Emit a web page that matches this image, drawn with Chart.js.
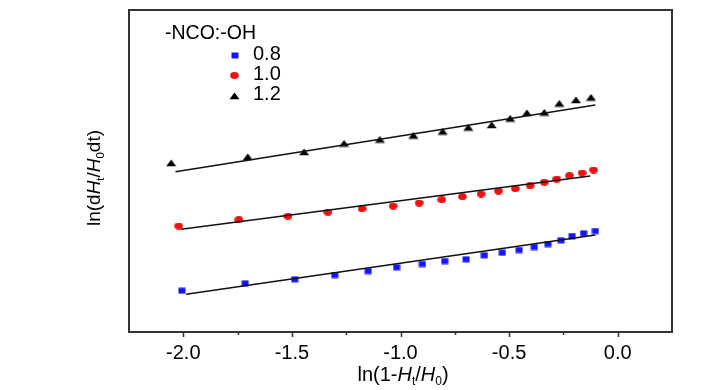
<!DOCTYPE html>
<html><head><meta charset="utf-8">
<script src="https://cdn.jsdelivr.net/npm/chart.js@4/dist/chart.umd.min.js"></script>
<style>html,body{margin:0;padding:0;background:#fff}#wrap{width:728px;height:390px}</style>
</head><body><div id="wrap"><canvas id="c" width="728" height="390"></canvas></div>
<script>
// ---- data ----
const legendTitle = '-NCO:-OH';
const seriesNames = ['0.8', '1.0', '1.2'];
const seriesColors = ['#1414ff', '#f01010', '#000000'];
const seriesShapes = ['square', 'ellipse', 'triangle'];

const x08 = [-2.006,-1.715,-1.487,-1.303,-1.149,-1.018,-0.899,-0.796,-0.698,-0.614,-0.531,-0.454,-0.384,-0.321,-0.261,-0.210,-0.157,-0.103];
const y08 = [0.413,0.487,0.527,0.570,0.610,0.647,0.680,0.709,0.727,0.767,0.793,0.820,0.850,0.880,0.917,0.960,0.987,1.010];

const x10 = [-2.021,-1.744,-1.518,-1.334,-1.177,-1.034,-0.914,-0.810,-0.715,-0.629,-0.549,-0.471,-0.403,-0.338,-0.280,-0.222,-0.164,-0.111];
const y10 = [1.060,1.123,1.157,1.197,1.233,1.260,1.290,1.323,1.353,1.380,1.410,1.433,1.463,1.497,1.530,1.563,1.590,1.620];

const x12 = [-2.056,-1.703,-1.444,-1.260,-1.095,-0.941,-0.806,-0.688,-0.580,-0.495,-0.418,-0.338,-0.269,-0.192,-0.123];
const y12 = [1.690,1.750,1.800,1.885,1.925,1.965,2.005,2.045,2.070,2.135,2.190,2.195,2.285,2.320,2.345];

const fit08X = [-1.987, -0.103], fit08Y = [0.377, 0.970];
const fit10X = [-2.010, -0.126], fit10Y = [1.027, 1.560];
const fit12X = [-2.036, -0.103], fit12Y = [1.603, 2.270];

const xTicks = [-2.0, -1.5, -1.0, -0.5, 0.0];
const xMinorTicks = [-1.75, -1.25, -0.75, -0.25];
const xMin = -2.25, xMax = 0.25, yMin = 0, yMax = 3.22;

// ---- build ----
const zip = (xs, ys) => xs.map((x, i) => ({x, y: ys[i]}));
const seriesX = [x08, x10, x12], seriesY = [y08, y10, y12];
const fitX = [fit08X, fit10X, fit12X], fitY = [fit08Y, fit10Y, fit12Y];

function makeMarker(shape, color) {
  const c = document.createElement('canvas');
  const dims = {square: [8, 7], ellipse: [9, 7], triangle: [11, 8]}[shape];
  c.width = dims[0]; c.height = dims[1];
  const g = c.getContext('2d');
  g.fillStyle = color;
  g.beginPath();
  if (shape === 'square') g.rect(0.5, 0.5, 7, 6);
  else if (shape === 'ellipse') g.ellipse(4.5, 3.5, 4.3, 3.4, 0, 0, Math.PI * 2);
  else { g.moveTo(5.5, 0.5); g.lineTo(10.5, 7.3); g.lineTo(0.5, 7.3); g.closePath(); }
  g.fill();
  return c;
}
const markers = seriesShapes.map((s, i) => makeMarker(s, seriesColors[i]));

const datasets = [];
for (let i = 0; i < 3; i++) {
  datasets.push({
    type: 'scatter', label: seriesNames[i], data: zip(seriesX[i], seriesY[i]),
    pointStyle: markers[i], pointRadius: 4, pointHoverRadius: 4,
    backgroundColor: seriesColors[i], borderColor: seriesColors[i], borderWidth: 0, order: 2
  });
  datasets.push({
    type: 'line', label: 'fit ' + seriesNames[i], data: zip(fitX[i], fitY[i]),
    borderColor: '#111', borderWidth: 1.6, pointRadius: 0, fill: false, order: 1
  });
}

const FONT = '"Liberation Sans", Arial, sans-serif';

function drawRuns(ctx, runs, size, cx, baseY) {
  const parts = runs.map(r => {
    const s = r.sub ? size * 0.6 : size;
    const f = (r.it ? 'italic ' : '') + s + 'px ' + FONT;
    ctx.font = f;
    return {t: r.t, f, w: ctx.measureText(r.t).width, dy: r.sub ? size * 0.22 : 0};
  });
  const total = parts.reduce((a, p) => a + p.w, 0);
  let x = cx - total / 2;
  ctx.textBaseline = 'alphabetic';
  ctx.textAlign = 'left';
  for (const p of parts) { ctx.font = p.f; ctx.fillText(p.t, x, baseY + p.dy); x += p.w; }
}

const decor = {
  id: 'decor',
  afterDraw(chart) {
    const ctx = chart.ctx, a = chart.chartArea, xs = chart.scales.x;
    ctx.save();
    // frame
    ctx.strokeStyle = '#333'; ctx.lineWidth = 2;
    ctx.strokeRect(a.left, a.top, a.right - a.left, a.bottom - a.top);
    // ticks
    ctx.lineWidth = 1.5;
    ctx.beginPath();
    xTicks.forEach(v => { const p = Math.round(xs.getPixelForValue(v)) + 0.5; ctx.moveTo(p, a.bottom); ctx.lineTo(p, a.bottom + 5); });
    xMinorTicks.forEach(v => { const p = Math.round(xs.getPixelForValue(v)) + 0.5; ctx.moveTo(p, a.bottom); ctx.lineTo(p, a.bottom + 3); });
    ctx.stroke();
    // legend
    ctx.fillStyle = '#000';
    ctx.font = '19.5px ' + FONT; ctx.textBaseline = 'middle'; ctx.textAlign = 'left';
    ctx.fillText(legendTitle, 165, 34);
    const ly = [54.5, 74.5, 94.5];
    for (let i = 0; i < 3; i++) {
      const m = markers[i];
      ctx.drawImage(m, Math.round(234.5 - m.width / 2), Math.round(ly[i] + 1 - m.height / 2));
      ctx.fillStyle = '#000';
      ctx.font = '20px ' + FONT; ctx.textBaseline = 'middle';
      ctx.fillText(seriesNames[i], 253, ly[i]);
    }
    // axis titles
    ctx.fillStyle = '#000';
    drawRuns(ctx, [{t:'ln(1-'},{t:'H',it:1},{t:'t',sub:1},{t:'/'},{t:'H',it:1},{t:'0',sub:1},{t:')'}], 20, 403, 381);
    ctx.save();
    ctx.translate(100, 178); ctx.rotate(-Math.PI / 2);
    drawRuns(ctx, [{t:'ln(d'},{t:'H',it:1},{t:'t',sub:1},{t:'/'},{t:'H',it:1},{t:'0',sub:1},{t:'dt)'}], 19, 0, 0);
    ctx.restore();
    ctx.restore();
  }
};

new Chart(document.getElementById('c'), {
  data: {datasets},
  options: {
    responsive: false, animation: false, devicePixelRatio: 1,
    layout: {padding: {left: 0, top: 10, right: 56, bottom: 0}},
    plugins: {legend: {display: false}, tooltip: {enabled: false}},
    scales: {
      x: {
        type: 'linear', min: xMin, max: xMax,
        afterBuildTicks: s => { s.ticks = xTicks.map(v => ({value: v})); },
        afterFit: s => { s.height = 58; },
        grid: {display: false, drawTicks: false}, border: {display: false},
        ticks: {color: '#000', padding: 9, font: {family: FONT, size: 20}, callback: v => Number(v).toFixed(1)}
      },
      y: {
        type: 'linear', min: yMin, max: yMax,
        afterFit: s => { s.width = 129; },
        grid: {display: false}, border: {display: false},
        ticks: {display: false}
      }
    }
  },
  plugins: [decor]
});
</script></body></html>
